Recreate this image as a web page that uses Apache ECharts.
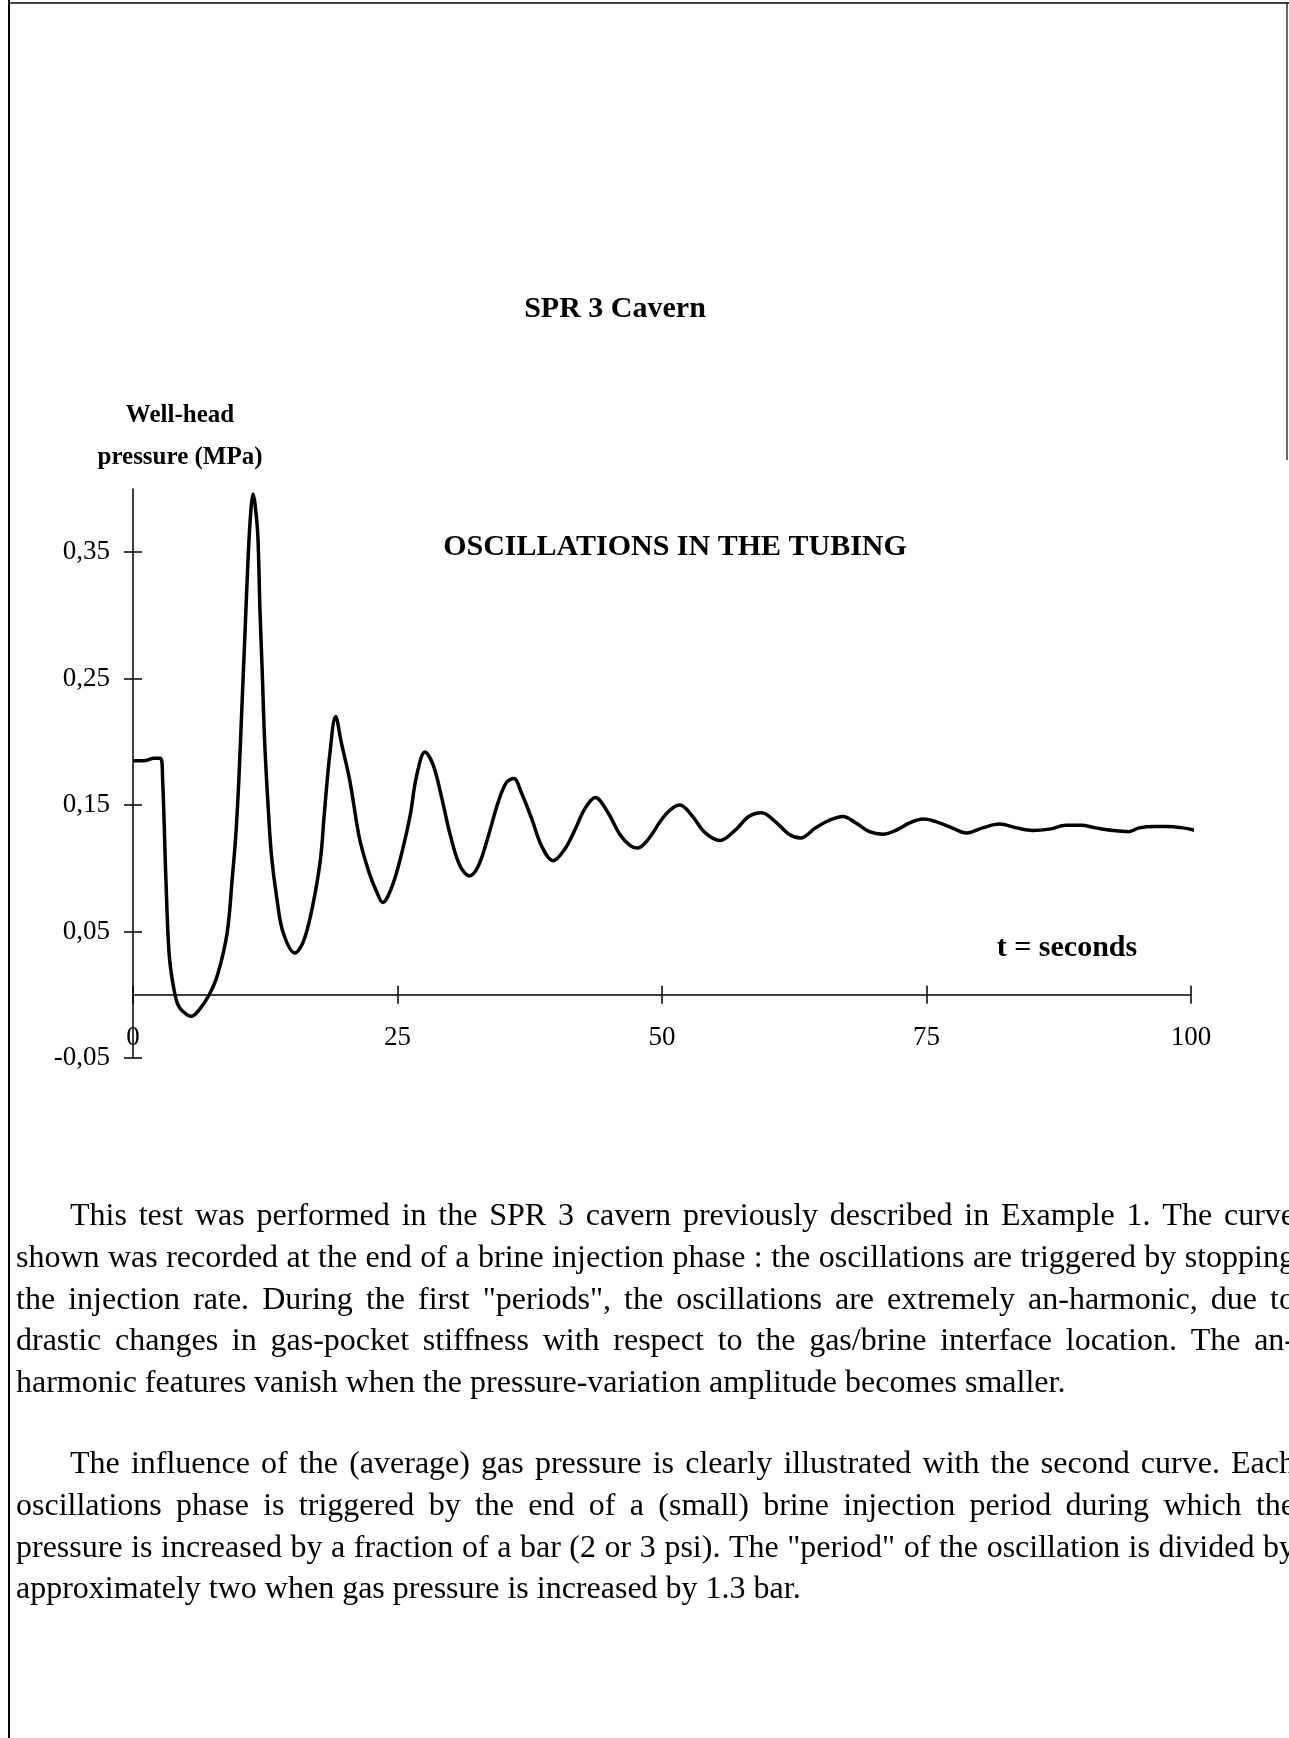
<!DOCTYPE html>
<html>
<head>
<meta charset="utf-8">
<title>SPR 3 Cavern - oscillations in the tubing</title>
<script src="https://cdn.jsdelivr.net/npm/echarts@6/dist/echarts.min.js"></script>
<style>
  html, body { margin: 0; padding: 0; background: #fff; }
  #chart { width: 1289px; height: 1738px; }
</style>
</head>
<body>
<div id="chart"></div>
<script>
// well-head pressure (MPa) against time (s)
var timeData = [
  0, 1, 2, 2.6, 2.8, 3.1, 3.4, 3.75, 4.2, 4.7,
  5.5, 6.25, 7.2, 8.0, 8.9, 9.4, 9.7, 10.0, 10.3, 10.6,
  10.9, 11.15, 11.35, 11.55, 11.8, 12.0, 12.2, 12.45, 12.8, 13.1,
  13.6, 14.2, 15.3, 16.1, 16.9, 17.7, 18.1, 18.6, 19.15, 19.7,
  20.5, 21.4, 22.3, 23.0, 23.6, 24.5, 25.4, 26.2, 26.8, 27.6,
  28.4, 29.2, 30.0, 30.9, 31.8, 32.65, 33.6, 34.5, 35.3, 36.0,
  36.7, 37.7, 38.6, 39.7, 40.8, 41.8, 42.7, 43.7, 44.9, 46.0,
  47.0, 47.7, 48.7, 50.0, 50.9, 51.7, 52.8, 54.1, 55.5, 56.9,
  58.2, 59.4, 60.7, 62.0, 63.1, 64.5, 65.8, 67.1, 68.3, 69.6,
  70.9, 72.1, 73.4, 74.7, 75.9, 77.4, 78.8, 80.3, 81.9, 83.5,
  85.0, 86.6, 88.2, 89.6, 91.0, 92.6, 94.1, 95.1, 96.6, 97.6,
  99.2, 100.4
]
var pressureData = [
  0.185, 0.185, 0.187, 0.187, 0.170, 0.094, 0.034, 0.010, -0.007, -0.013,
  -0.017, -0.012, 0.000, 0.016, 0.049, 0.094, 0.124, 0.169, 0.229, 0.289,
  0.349, 0.384, 0.396, 0.387, 0.363, 0.304, 0.259, 0.199, 0.145, 0.109,
  0.076, 0.049, 0.033, 0.042, 0.067, 0.106, 0.145, 0.190, 0.220, 0.199,
  0.169, 0.124, 0.097, 0.082, 0.073, 0.086, 0.112, 0.142, 0.173, 0.192,
  0.181, 0.155, 0.126, 0.102, 0.094, 0.102, 0.126, 0.152, 0.168, 0.171,
  0.160, 0.139, 0.118, 0.106, 0.115, 0.131, 0.147, 0.156, 0.144, 0.127,
  0.118, 0.116, 0.123, 0.139, 0.147, 0.150, 0.142, 0.128, 0.122, 0.130,
  0.141, 0.144, 0.137, 0.127, 0.124, 0.132, 0.138, 0.141, 0.136, 0.129,
  0.127, 0.130, 0.136, 0.139, 0.137, 0.132, 0.128, 0.132, 0.135, 0.132,
  0.130, 0.131, 0.134, 0.134, 0.132, 0.130, 0.129, 0.132, 0.133, 0.133,
  0.132, 0.130
]
var xTicks = [0, 25, 50, 75, 100]
var yTicks = [-0.05, 0.05, 0.15, 0.25, 0.35]

var paragraphOne = [
  'This test was performed in the SPR 3 cavern previously described in Example 1. The curve',
  'shown was recorded at the end of a brine injection phase : the oscillations are triggered by stopping',
  'the injection rate. During the first "periods", the oscillations are extremely an-harmonic, due to',
  'drastic changes in gas-pocket stiffness with respect to the gas/brine interface location. The an-',
  'harmonic features vanish when the pressure-variation amplitude becomes smaller.'
]
var paragraphTwo = [
  'The influence of the (average) gas pressure is clearly illustrated with the second curve. Each',
  'oscillations phase is triggered by the end of a (small) brine injection period during which the',
  'pressure is increased by a fraction of a bar (2 or 3 psi). The "period" of the oscillation is divided by',
  'approximately two when gas pressure is increased by 1.3 bar.'
]

var SERIF = '"Liberation Serif", "Times New Roman", serif'
var BODY_SIZE = 32
var TITLE_SIZE = 30
var LABEL_SIZE = 27

var measureCtx = document.createElement('canvas').getContext('2d')

// lay one line out word by word so it can be justified like the page
function textLine (text, left, y, right, justify) {
  measureCtx.font = BODY_SIZE + 'px ' + SERIF
  var words = text.split(' ')
  var widths = words.map(function (w) { return measureCtx.measureText(w).width })
  var total = widths.reduce(function (a, b) { return a + b }, 0)
  var gap = measureCtx.measureText(' ').width
  if (justify && words.length > 1) {
    gap = (right - left - total) / (words.length - 1)
  }
  var out = []
  var cx = left
  words.forEach(function (w, i) {
    out.push({
      type: 'text',
      x: cx,
      y: y,
      silent: true,
      style: {
        text: w,
        fill: '#000',
        fontSize: BODY_SIZE,
        fontFamily: SERIF,
        align: 'left',
        verticalAlign: 'middle'
      }
    })
    cx += widths[i] + gap
  })
  return out
}

function paragraph (lines, top, lineGap) {
  var els = []
  lines.forEach(function (line, i) {
    var left = i === 0 ? 70 : 16
    var last = i === lines.length - 1
    els = els.concat(textLine(line, left, top + i * lineGap, 1295, !last))
  })
  return els
}

function label (text, x, y, size, bold) {
  return {
    type: 'text',
    x: x,
    y: y,
    silent: true,
    style: {
      text: text,
      fill: '#000',
      fontSize: size,
      fontWeight: bold ? 'bold' : 'normal',
      fontFamily: SERIF,
      align: 'center',
      verticalAlign: 'middle'
    }
  }
}

var graphics = [
  // page frame of the scan
  { type: 'line', silent: true, shape: { x1: 9, y1: 0, x2: 9, y2: 1738 }, style: { stroke: '#000', lineWidth: 2 } },
  { type: 'line', silent: true, shape: { x1: 9, y1: 3, x2: 1289, y2: 3 }, style: { stroke: '#000', lineWidth: 1.5 } },
  { type: 'line', silent: true, shape: { x1: 1287, y1: 3, x2: 1287, y2: 460 }, style: { stroke: '#000', lineWidth: 1.2 } },
  label('SPR 3 Cavern', 615, 309, TITLE_SIZE, true),
  label('Well-head', 180, 416, 25, true),
  label('pressure (MPa)', 180, 458, 25, true),
  label('OSCILLATIONS IN THE TUBING', 675, 547, TITLE_SIZE, true),
  label('t = seconds', 1067, 948, TITLE_SIZE, true)
]
graphics = graphics.concat(paragraph(paragraphOne, 1217, 41.6))
graphics = graphics.concat(paragraph(paragraphTwo, 1465, 41.6))

var axisStyle = { color: '#000', width: 1.5 }
var labelStyle = { color: '#000', fontSize: LABEL_SIZE, fontFamily: SERIF }

var chart = echarts.init(document.getElementById('chart'), null, { renderer: 'canvas' })
chart.setOption({
  animation: false,
  backgroundColor: '#fff',
  grid: {
    left: 133,
    right: 98,
    top: 489,
    bottom: 680
  },
  xAxis: [
    {
      type: 'value',
      position: 'bottom',
      min: 0,
      max: 100,
      interval: 25,
      axisLine: { show: true, onZero: true, onZeroAxisIndex: 0, lineStyle: axisStyle },
      axisTick: { show: true, length: 9, customValues: xTicks, lineStyle: axisStyle },
      // labels sit just under the zero line, above the -0,05 level
      axisLabel: Object.assign({ margin: -34, customValues: xTicks }, labelStyle),
      splitLine: { show: false }
    },
    {
      type: 'value',
      position: 'bottom',
      min: 0,
      max: 100,
      interval: 25,
      axisLine: { show: false, onZero: true, onZeroAxisIndex: 0 },
      axisTick: { show: true, inside: true, length: 9, customValues: xTicks, lineStyle: axisStyle },
      axisLabel: { show: false },
      splitLine: { show: false }
    }
  ],
  yAxis: [
    {
      type: 'value',
      position: 'left',
      min: -0.05,
      max: 0.4,
      interval: 0.1,
      axisLine: { show: true, onZero: false, lineStyle: axisStyle },
      axisTick: { show: true, length: 9, customValues: yTicks, lineStyle: axisStyle },
      axisLabel: Object.assign({
        margin: 23,
        customValues: yTicks,
        formatter: function (v) {
          return v.toFixed(2).replace('.', ',')
        }
      }, labelStyle),
      splitLine: { show: false }
    },
    {
      type: 'value',
      position: 'left',
      min: -0.05,
      max: 0.4,
      interval: 0.1,
      axisLine: { show: false, onZero: false },
      axisTick: { show: true, inside: true, length: 9, customValues: yTicks, lineStyle: axisStyle },
      axisLabel: { show: false },
      splitLine: { show: false }
    }
  ],
  series: [
    {
      name: 'Well-head pressure',
      type: 'line',
      xAxisIndex: 0,
      yAxisIndex: 0,
      data: timeData.map(function (t, i) { return [t, pressureData[i]] }),
      showSymbol: false,
      smooth: 0.35,
      clip: false,
      lineStyle: { color: '#000', width: 3.5 }
    }
  ],
  graphic: graphics
})
</script>
</body>
</html>
